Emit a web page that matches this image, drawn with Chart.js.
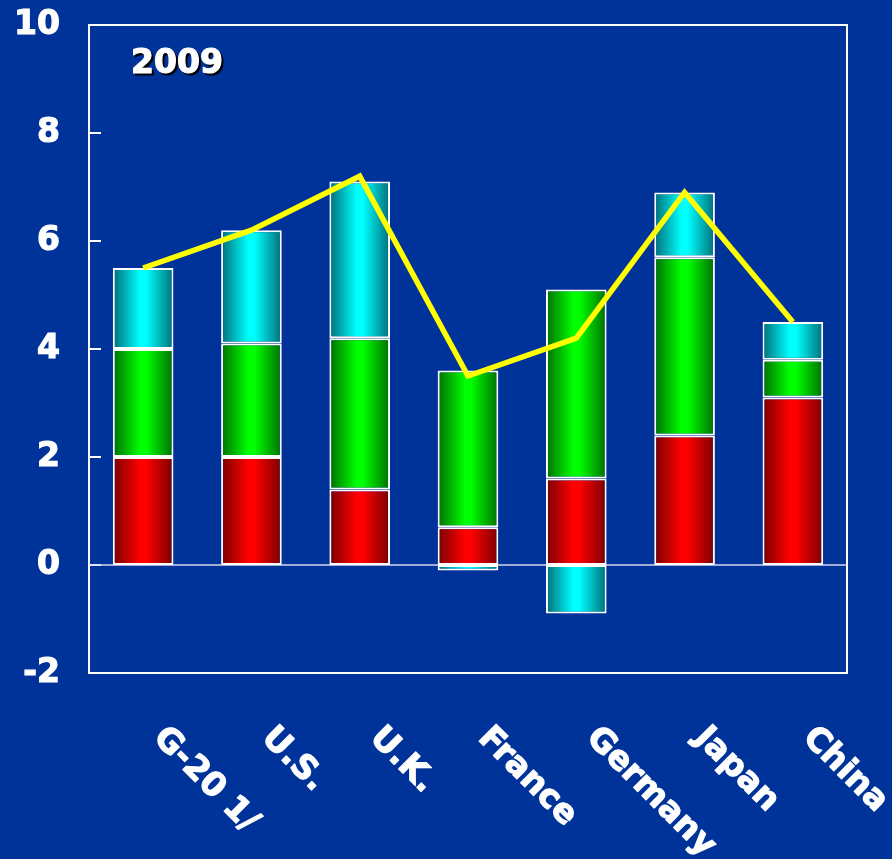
<!DOCTYPE html>
<html>
<head>
<meta charset="utf-8">
<script src="https://cdn.jsdelivr.net/npm/chart.js@4/dist/chart.umd.min.js"></script>
<style>
  html, body { margin: 0; padding: 0; background: #003399; }
  #wrap { position: relative; width: 892px; height: 859px; }
</style>
</head>
<body>
<div id="wrap"><canvas id="growthChart"></canvas></div>
<script>
// Podklady grafu
const categories = ['G-20 1/', 'U.S.', 'U.K.', 'France', 'Germany', 'Japan', 'China'];
const redPart   = [2.0, 2.0, 1.4, 0.7, 1.6, 2.4, 3.1];
const greenPart = [2.0, 2.1, 2.8, 2.9, 3.5, 3.3, 0.7];
const cyanPart  = [1.5, 2.1, 2.9, -0.1, -0.9, 1.2, 0.7];
const totalLine = [5.5, 6.2, 7.2, 3.5, 4.2, 6.9, 4.5];
const yearLabel = '2009';

const BAR_PCT = 0.56;
const FONT = '"DejaVu Sans", Verdana, sans-serif';

// Vodorovny prechod farby v ramci jedneho stlpca
function barFill(dark, light) {
    return c => {
        const chart = c.chart;
        const xs = chart.scales.x;
        if (!xs || !chart.chartArea) return light;
        const cx = xs.getPixelForValue(c.dataIndex);
        const half = xs.width / categories.length * BAR_PCT / 2;
        const g = chart.ctx.createLinearGradient(cx - half, 0, cx + half, 0);
        g.addColorStop(0, dark);
        g.addColorStop(0.45, light);
        g.addColorStop(0.55, light);
        g.addColorStop(1, dark);
        return g;
    };
}

// tucny text s obrysom
function heavyText(ctx, txt, x, y) {
    ctx.strokeText(txt, x, y);
    ctx.fillText(txt, x, y);
}

const frame = {
    id: 'frame',
    beforeDatasetsDraw(chart) {
        const { ctx, chartArea: a, scales: { y } } = chart;
        ctx.save();
        ctx.strokeStyle = '#ffffff';
        ctx.lineWidth = 2;
        ctx.strokeRect(a.left, a.top, a.right - a.left, a.bottom - a.top);
        // kratke znacky vo vnutri osi
        y.ticks.forEach(t => {
            const py = y.getPixelForValue(t.value);
            ctx.beginPath();
            ctx.moveTo(a.left, py);
            ctx.lineTo(a.left + 12, py);
            ctx.stroke();
        });
        // nulova ciara
        const y0 = y.getPixelForValue(0);
        ctx.strokeStyle = '#d8d8f0';
        ctx.lineWidth = 1.5;
        ctx.beginPath();
        ctx.moveTo(a.left, y0);
        ctx.lineTo(a.right, y0);
        ctx.stroke();
        ctx.restore();
    },
    afterDraw(chart) {
        const { ctx, scales: { x } } = chart;
        ctx.save();
        ctx.font = 'bold 33px ' + FONT;
        ctx.fillStyle = '#ffffff';
        ctx.strokeStyle = '#ffffff';
        ctx.lineWidth = 1.2;
        ctx.lineJoin = 'round';
        ctx.textAlign = 'left';
        ctx.textBaseline = 'alphabetic';
        categories.forEach((lab, i) => {
            const cx = x.getPixelForValue(i);
            ctx.save();
            ctx.translate(cx + 9, 739);
            ctx.rotate(Math.PI / 4);
            heavyText(ctx, lab, 0, 0);
            ctx.restore();
        });
        // rok v rohu s tienom
        ctx.font = 'bold 33px ' + FONT;
        ctx.fillStyle = '#000000';
        ctx.strokeStyle = '#000000';
        heavyText(ctx, yearLabel, 133, 75);
        ctx.fillStyle = '#ffffff';
        ctx.strokeStyle = '#ffffff';
        heavyText(ctx, yearLabel, 131, 73);
        ctx.restore();
    }
};

const barCommon = {
    type: 'bar',
    stack: 'parts',
    order: 1,
    borderColor: '#ffffff',
    borderWidth: 2,
    borderSkipped: false,
    barPercentage: BAR_PCT,
    categoryPercentage: 1
};

new Chart(document.getElementById('growthChart').getContext('2d'), {
    data: {
        labels: categories,
        datasets: [
            { ...barCommon, label: 'red', data: redPart, backgroundColor: barFill('#780000', '#ff0000') },
            { ...barCommon, label: 'green', data: greenPart, backgroundColor: barFill('#006e00', '#00ff00') },
            { ...barCommon, label: 'cyan', data: cyanPart, backgroundColor: barFill('#006e78', '#00ffff') },
            {
                type: 'line',
                label: 'total',
                data: totalLine,
                stack: 'line',
                order: 0,
                borderColor: '#ffff00',
                borderWidth: 5.5,
                pointRadius: 0,
                tension: 0,
                fill: false
            }
        ]
    },
    options: {
        responsive: true,
        maintainAspectRatio: false,
        animation: false,
        layout: { padding: { top: 25, right: 45, left: 0, bottom: 0 } },
        scales: {
            x: {
                stacked: true,
                grid: { display: false },
                border: { display: false },
                ticks: { display: false },
                afterFit(s) { s.height = 859 - 673; s.paddingLeft = 0; s.paddingRight = 0; }
            },
            y: {
                stacked: true,
                min: -2,
                max: 10,
                grid: { display: false, drawTicks: false },
                border: { display: false },
                ticks: {
                    stepSize: 2,
                    color: '#ffffff',
                    textStrokeColor: '#ffffff',
                    textStrokeWidth: 1.2,
                    padding: 29,
                    font: { family: FONT, size: 33, weight: 'bold' }
                },
                afterFit(s) { s.width = 89; s.paddingTop = 0; s.paddingBottom = 0; }
            }
        },
        plugins: {
            legend: { display: false },
            tooltip: { enabled: false }
        }
    },
    plugins: [frame]
});
</script>
</body>
</html>
